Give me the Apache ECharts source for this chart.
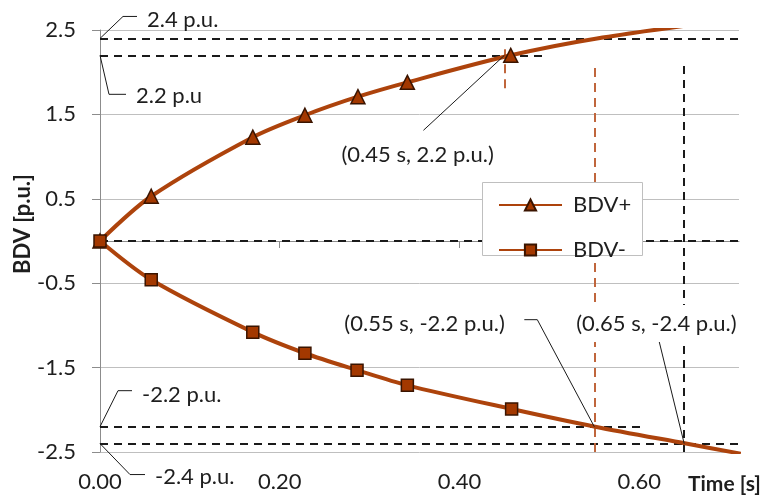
<!DOCTYPE html>
<html><head><meta charset="utf-8">
<script src="https://cdn.jsdelivr.net/npm/echarts@6/dist/echarts.min.js"></script>
<style>html,body{margin:0;padding:0;background:#fff}#c{width:769px;height:498px}</style>
</head><body><div id="c"></div>
<script>
// ---- data ----
const bdvPlusT = [0, 0.057, 0.170, 0.228, 0.287, 0.342, 0.457];
const bdvPlusV = [0, 0.53, 1.23, 1.49, 1.71, 1.88, 2.20];
const bdvPlusExtT = [0.553, 0.70];          // continuation of the curve (no markers)
const bdvPlusExtV = [2.40, 2.62];
const bdvMinusT = [0, 0.057, 0.170, 0.228, 0.286, 0.342, 0.458];
const bdvMinusV = [0, -0.46, -1.08, -1.33, -1.53, -1.71, -1.99];
const bdvMinusExtT = [0.551, 0.652, 0.713];
const bdvMinusExtV = [-2.20, -2.40, -2.52];
const yTicks = [-2.5, -1.5, -0.5, 0.5, 1.5, 2.5];
const xTicks = [0, 0.2, 0.4, 0.6];
// horizontal reference lines: [value, tFrom, tTo]
const hRefs = [[2.4, 0, 0.711], [2.2, 0, 0.498], [0, 0, 0.711], [-2.2, 0, 0.603], [-2.4, 0, 0.711]];
// vertical reference lines: [time, vFrom, vTo]
const vRefsOrange = [[0.45, 1.81, 2.28], [0.55, -2.5, 2.12]];
const vRefsBlack = [[0.65, -2.5, 2.12]];
// annotation texts and the point they point to
const noteTexts = ['2.4 p.u.', '2.2 p.u', '-2.2 p.u.', '-2.4 p.u.', '(0.45 s, 2.2 p.u.)', '(0.55 s, -2.2 p.u.)', '(0.65 s, -2.4 p.u.)'];
const noteAnchors = [[0, 2.4], [0, 2.2], [0, -2.2], [0, -2.4], [0.45, 2.2], [0.55, -2.2], [0.65, -2.4]];
const yTitle = 'BDV [p.u.]';
const xTitle = 'Time [s]';

// ---- styles ----
const FONT = 'Lato';
const FS = 22;
const LINE_C = '#ad430c';
const MARK_C = '#a33800';
const MARK_B = '#3a1400';
const TXT = '#1e1e1e';
// callout geometry (pixel offsets from anchor): polyline points, text left/center, opaque box
const calloutLayout = [
  {pts: [[23, -22], [37, -22]], txt: [47, -19]},
  {pts: [[9, 39], [26, 39]], txt: [36, 41]},
  {pts: [[18, -36], [32, -36]], txt: [42, -32]},
  {pts: [[30, 31], [45, 31]], txt: [55, 33]},
  {pts: [[-81, 75]], txt: [-163, 100]},
  {pts: [[-57, -107], [-70, -107]], txt: [-250, -103]},
  {pts: [[-25, -102]], txt: [-108, -120], box: true}
];

function seriesData(ts, vs, ets, evs) {
  const d = ts.map((t, i) => [t, vs[i]]);
  ets.forEach((t, i) => d.push({value: [t, evs[i]], symbol: 'none'}));
  return d;
}

const markLineData = [];
hRefs.forEach(r => markLineData.push([{coord: [r[1], r[0]]}, {coord: [r[2], r[0]]}]));
vRefsBlack.forEach(r => markLineData.push([{coord: [r[0], r[1]]}, {coord: [r[0], r[2]]}]));
const markLineOrange = vRefsOrange.map(r => [{coord: [r[0], r[1]]}, {coord: [r[0], r[2]]}]);

const chart = echarts.init(document.getElementById('c'), null, {renderer: 'canvas'});
const option = {
  animation: false,
  backgroundColor: '#fff',
  textStyle: {fontFamily: FONT},
  grid: {left: 100, right: 30, top: 30, bottom: 46, containLabel: false},
  xAxis: {
    type: 'value', min: 0, max: 0.711, interval: 0.2,
    axisLine: {lineStyle: {color: '#8c8c8c', width: 1}},
    axisTick: {show: true, inside: false, length: 7, lineStyle: {color: '#8c8c8c'}, customValues: xTicks},
    axisLabel: {customValues: xTicks, formatter: v => v.toFixed(2), fontSize: FS, color: TXT, fontFamily: FONT, margin: 19},
    splitLine: {show: false}
  },
  yAxis: {
    type: 'value', min: -2.5, max: 2.5, interval: 0.5,
    axisLine: {show: true, lineStyle: {color: '#8c8c8c', width: 1}},
    axisTick: {show: true, length: 8, lineStyle: {color: '#8c8c8c'}, customValues: yTicks},
    axisLabel: {customValues: yTicks, formatter: v => String(v), fontSize: FS, color: TXT, fontFamily: FONT, margin: 24},
    splitLine: {show: true, lineStyle: {color: '#bfbfbf', width: 1}}
  },
  legend: {
    data: ['BDV+', 'BDV-'], orient: 'vertical', left: 498, top: 194, padding: 0,
    itemWidth: 63, itemHeight: 14, itemGap: 23, z: 20,
    textStyle: {fontSize: FS, color: TXT, fontFamily: FONT, padding: [0, 0, 0, 6]}
  },
  series: [
    {
      name: 'refs', type: 'line', data: [], z: 1,
      markLine: {silent: true, symbol: 'none', label: {show: false},
        lineStyle: {color: '#1a1a1a', type: [8, 6], width: 2}, data: markLineData}
    },
    {
      name: 'refsOrange', type: 'line', data: [], z: 1,
      markLine: {silent: true, symbol: 'none', label: {show: false},
        lineStyle: {color: '#c0663c', type: [9, 6], width: 2}, data: markLineOrange}
    },
    {
      name: 'BDV+', type: 'line', smooth: 0.3, z: 5,
      data: seriesData(bdvPlusT, bdvPlusV, bdvPlusExtT, bdvPlusExtV),
      symbol: 'triangle', symbolSize: 14, showAllSymbol: true,
      lineStyle: {color: LINE_C, width: 4},
      itemStyle: {color: MARK_C, borderColor: MARK_B, borderWidth: 1.5}
    },
    {
      name: 'BDV-', type: 'line', smooth: 0.3, z: 6,
      data: seriesData(bdvMinusT, bdvMinusV, bdvMinusExtT, bdvMinusExtV),
      symbol: 'rect', symbolSize: 12, showAllSymbol: true,
      lineStyle: {color: LINE_C, width: 4},
      itemStyle: {color: MARK_C, borderColor: MARK_B, borderWidth: 1.5}
    }
  ]
};
chart.setOption(option);

// annotations anchored to data points
const graphics = [
  {type: 'rect', shape: {x: 482.5, y: 182.5, width: 160, height: 73}, z: 10,
   style: {fill: '#fff', stroke: '#bfbfbf', lineWidth: 1}},
  {type: 'text', x: 688, y: 484, z: 10,
   style: {text: xTitle, fontSize: 21, fontWeight: 'bold', fill: TXT, fontFamily: FONT, verticalAlign: 'middle', align: 'left'}},
  {type: 'text', x: 23, y: 224, z: 10, rotation: Math.PI / 2,
   style: {text: yTitle, fontSize: 22, fontWeight: 'bold', fill: TXT, fontFamily: FONT, verticalAlign: 'middle', align: 'center'}}
];
noteAnchors.forEach((a, i) => {
  const p = chart.convertToPixel({gridIndex: 0}, a);
  const L = calloutLayout[i];
  const pts = [[p[0], p[1]]].concat(L.pts.map(o => [p[0] + o[0], p[1] + o[1]]));
  graphics.push({type: 'polyline', z: 9, shape: {points: pts},
    style: {stroke: '#1a1a1a', lineWidth: 1, fill: null}});
  const st = {text: noteTexts[i], fontSize: FS, fill: TXT, fontFamily: FONT, verticalAlign: 'middle', align: 'left'};
  if (L.box) { st.backgroundColor = '#fff'; st.padding = [8, 2, 7, 2]; }
  graphics.push({type: 'text', z: 9, x: p[0] + L.txt[0] - (L.box ? 2 : 0), y: p[1] + L.txt[1], style: st});
});
chart.setOption({graphic: graphics});
</script></body></html>
